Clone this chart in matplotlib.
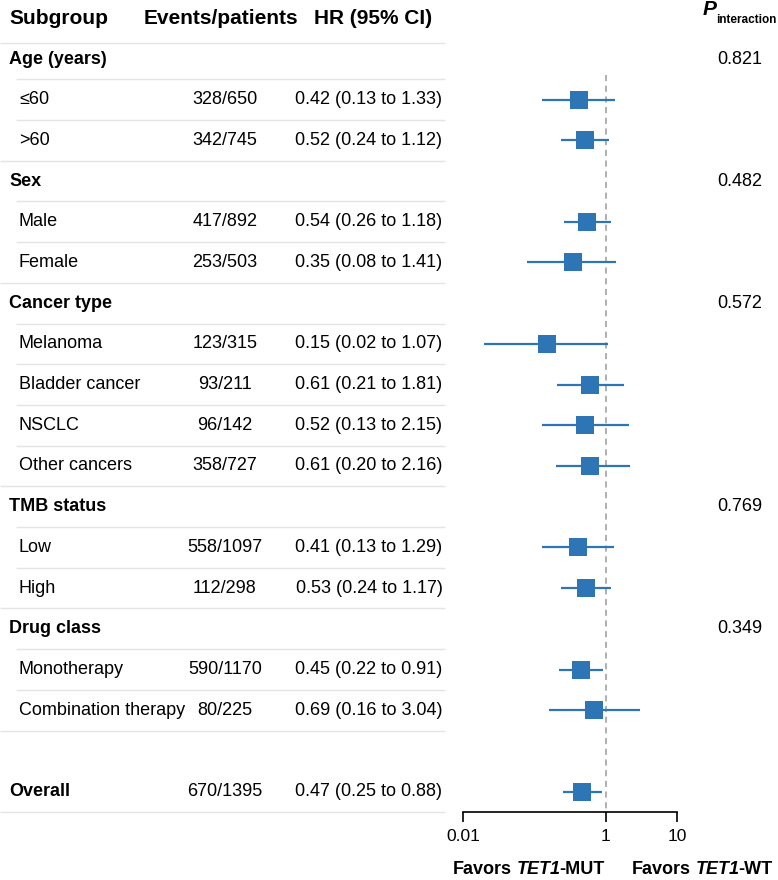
import matplotlib
matplotlib.use("Agg")
import matplotlib.pyplot as plt
from matplotlib.ticker import NullLocator

plt.rcParams['font.family'] = ['Liberation Sans', 'DejaVu Sans']

# data
groups = ["Age (years)", "Sex", "Cancer type", "TMB status", "Drug class"]
group_sizes = [2, 2, 4, 2, 2]
p_interaction = ["0.821", "0.482", "0.572", "0.769", "0.349"]

sub_labels = ["≤60", ">60", "Male", "Female", "Melanoma", "Bladder cancer", "NSCLC",
              "Other cancers", "Low", "High", "Monotherapy", "Combination therapy"]
events = ["328/650", "342/745", "417/892", "253/503", "123/315", "93/211", "96/142",
          "358/727", "558/1097", "112/298", "590/1170", "80/225"]
hr = [0.42, 0.52, 0.54, 0.35, 0.15, 0.61, 0.52, 0.61, 0.41, 0.53, 0.45, 0.69]
ci_low = [0.13, 0.24, 0.26, 0.08, 0.02, 0.21, 0.13, 0.20, 0.13, 0.24, 0.22, 0.16]
ci_high = [1.33, 1.12, 1.18, 1.41, 1.07, 1.81, 2.15, 2.16, 1.29, 1.17, 0.91, 3.04]

overall_label = "Overall"
overall_events = "670/1395"
overall_hr, overall_low, overall_high = 0.47, 0.25, 0.88

xticks = [0.01, 1, 10]
xtick_labels = ["0.01", "1", "10"]

BLUE = "#2e75b6"
GRID = "#e4e4e4"
FS = 13

# layout (pixels, rows)
W, H = 778, 880
ROW0, ROW_H = 59, 40.7


def row_px(k):
    return ROW0 + ROW_H * k


fig = plt.figure(figsize=(W / 100, H / 100), dpi=100)

ax_tab = fig.add_axes([0, 0, 1, 1])
ax_tab.set_xlim(0, W)
ax_tab.set_ylim(H, 0)
ax_tab.axis("off")

bottom_k = 18.5
ax = fig.add_axes([463 / W, (H - row_px(bottom_k)) / H, 214 / W, row_px(bottom_k) / H])
ax.patch.set_alpha(0)
ax.set_xscale("log")
ax.set_xlim(0.01, 10)
ax.set_ylim(bottom_k, -ROW0 / ROW_H)
for s in ["left", "right", "top"]:
    ax.spines[s].set_visible(False)
ax.spines["bottom"].set_linewidth(1.2)
ax.set_yticks([])
ax.set_xticks(xticks)
ax.set_xticklabels(xtick_labels)
ax.xaxis.set_minor_locator(NullLocator())
ax.tick_params(axis="x", direction="out", length=7, width=1.2, labelsize=12.5, pad=5)

# header
hy = row_px(-1)
ax_tab.text(9, hy, "Subgroup", fontsize=15, fontweight="bold", va="center", ha="left")
ax_tab.text(221, hy, "Events/patients", fontsize=15, fontweight="bold", va="center", ha="center")
ax_tab.text(373, hy, "HR (95% CI)", fontsize=15, fontweight="bold", va="center", ha="center")
ax_tab.text(703, 15, "P", fontsize=15, fontweight="bold", fontstyle="italic", va="baseline")
ax_tab.text(716, 23, "interaction", fontsize=8.5, fontweight="bold", va="baseline")

ax_tab.hlines(row_px(-0.4), 0, 445, color=GRID, lw=1)

# rows
ys = []
k = 0
idx = 0
for g, n, p in zip(groups, group_sizes, p_interaction):
    ax_tab.text(9, row_px(k), g, fontsize=FS, fontweight="bold", va="center")
    ax_tab.text(740, row_px(k), p, fontsize=FS, va="center", ha="center")
    k += 1
    for j in range(n):
        y = row_px(k)
        ax_tab.hlines(row_px(k - 0.5), 16, 445, color=GRID, lw=1)
        ax_tab.text(19, y, sub_labels[idx], fontsize=FS, va="center")
        ax_tab.text(225, y, events[idx], fontsize=FS, va="center", ha="center")
        ax_tab.text(369, y, f"{hr[idx]:.2f} ({ci_low[idx]:.2f} to {ci_high[idx]:.2f})",
                    fontsize=FS, va="center", ha="center")
        ys.append(k)
        k += 1
        idx += 1
    ax_tab.hlines(row_px(k - 0.5), 0, 445, color=GRID, lw=1)

k_overall = k + 1
yo = row_px(k_overall)
ax_tab.text(9, yo, overall_label, fontsize=FS, fontweight="bold", va="center")
ax_tab.text(225, yo, overall_events, fontsize=FS, va="center", ha="center")
ax_tab.text(369, yo, f"{overall_hr:.2f} ({overall_low:.2f} to {overall_high:.2f})",
            fontsize=FS, va="center", ha="center")
ax_tab.hlines(row_px(k_overall + 0.5), 0, 445, color=GRID, lw=1)

# forest
ax.vlines(1, 0.4, bottom_k, colors="#9a9a9a", linestyles=(0, (4, 3)), lw=1.1, zorder=1)
all_y = ys + [k_overall]
ax.hlines(all_y, ci_low + [overall_low], ci_high + [overall_high], color=BLUE, lw=1.6, zorder=2)
ax.plot(hr + [overall_hr], all_y, "s", ms=12.7, color=BLUE, mew=0, zorder=3)

# favors labels
for x0, tail in [(453, "-MUT"), (632, "-WT")]:
    t1 = ax_tab.text(x0, 874, "Favors", fontsize=FS, fontweight="bold", va="baseline")
    t2 = ax_tab.annotate("TET1", xy=(1, 0), xycoords=t1, xytext=(3.6, 0), textcoords="offset points",
                         fontsize=FS, fontweight="bold", fontstyle="italic", va="bottom", ha="left")
    ax_tab.annotate(tail, xy=(1, 0), xycoords=t2, xytext=(-1.2, 0), textcoords="offset points",
                    fontsize=FS, fontweight="bold", va="bottom", ha="left")

fig.savefig("out.png", dpi=100)
